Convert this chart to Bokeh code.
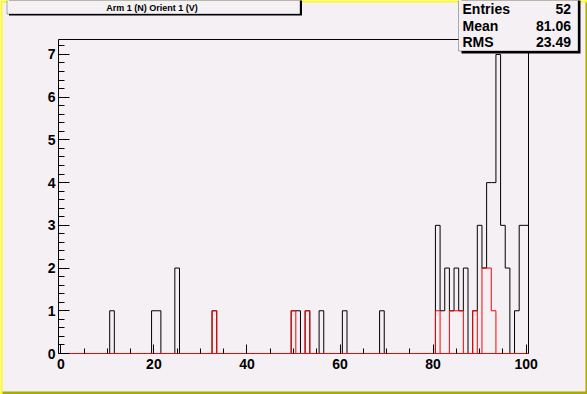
import numpy as np
from bokeh.plotting import figure
from bokeh.models import Range1d, LinearAxis, FixedTicker, BoxAnnotation, Label
from bokeh.embed import file_html
from bokeh.resources import INLINE

# ---------------- data ----------------
hist_lo, hist_hi, n_bins = -0.5, 100.5, 101

all_centers = [11, 20, 21, 25, 33, 50, 51, 53, 56, 61, 69,
               81, 82, 83, 84, 85, 86, 87, 89, 90, 91, 92, 93, 94, 95, 96, 98, 99, 100]
all_counts = [1, 1, 1, 2, 1, 1, 1, 1, 1, 1, 1,
              3, 1, 2, 1, 2, 1, 2, 1, 3, 2, 4, 4, 7, 3, 2, 1, 3, 3]

sel_centers = [33, 50, 53, 81, 84, 85, 86, 89, 91, 92, 93]
sel_counts = [1, 1, 1, 1, 1, 1, 1, 1, 2, 2, 1]

x_ticks = [0, 20, 40, 60, 80, 100]
y_ticks = [0, 1, 2, 3, 4, 5, 6, 7]
y_max = 7.35

title_text = "Arm 1 (N) Orient 1 (V)"
stats_names = ["Entries", "Mean", "RMS"]
stats_values = ["52", "81.06", "23.49"]

# ---------------- helpers ----------------
edges = np.linspace(hist_lo, hist_hi, n_bins + 1)


def full_counts(centers, counts):
    arr = np.zeros(n_bins)
    for c, v in zip(centers, counts):
        arr[int(round(c - hist_lo - 0.5))] = v
    return arr


def outline(counts):
    xs, ys = [edges[0]], [0.0]
    for i, v in enumerate(counts):
        xs += [edges[i], edges[i + 1]]
        ys += [v, v]
    xs.append(edges[-1])
    ys.append(0.0)
    return xs, ys


W, H = 587, 394
# pixel box of the histogram frame on the canvas
FL, FR, FT, FB = 58, 528, 39, 353
BG = "#f4f0f4"
FONT = "Liberation Sans"

kx = (FR - FL) / (hist_hi - hist_lo)
ky = (FB - FT) / y_max
x_start = hist_lo - FL / kx
x_end = hist_hi + (W - FR) / kx
y_end = y_max + FT / ky
y_start = -(H - FB) / ky

# ---------------- figure ----------------
p = figure(width=W, height=H, output_backend="svg", toolbar_location=None,
           x_range=Range1d(x_start, x_end), y_range=Range1d(y_start, y_end),
           min_border=0, min_border_left=0, min_border_right=0,
           min_border_top=0, min_border_bottom=0)
p.background_fill_color = BG
p.border_fill_color = BG
p.outline_line_color = None
p.xgrid.visible = False
p.ygrid.visible = False

xa = p.xaxis[0]
xa.fixed_location = 0
xa.bounds = (hist_lo, hist_hi)
xa.ticker = FixedTicker(ticks=x_ticks, minor_ticks=list(range(0, 101, 5)))
xa.major_tick_in, xa.major_tick_out = 9, 0
xa.minor_tick_in, xa.minor_tick_out = 5, 0
xa.axis_line_color = "#ff0000"
xa.major_tick_line_color = "black"
xa.minor_tick_line_color = "black"
xa.major_label_standoff = 5
xa.major_label_text_font = FONT
xa.major_label_text_font_style = "bold"
xa.major_label_text_font_size = "14px"
xa.major_label_text_color = "black"

ya = p.yaxis[0]
ya.fixed_location = hist_lo
ya.bounds = (0, y_max)
ya.ticker = FixedTicker(ticks=y_ticks, minor_ticks=[round(0.2 * i, 1) for i in range(37)])
ya.major_tick_in, ya.major_tick_out = 11, 0
ya.minor_tick_in, ya.minor_tick_out = 6, 0
ya.axis_line_color = "black"
ya.major_label_standoff = 3
ya.major_label_text_font = FONT
ya.major_label_text_font_style = "bold"
ya.major_label_text_font_size = "14px"
ya.major_label_text_color = "black"

# top and right sides of the frame
top_ax = LinearAxis(ticker=FixedTicker(ticks=[]), fixed_location=y_max, bounds=(hist_lo, hist_hi),
                    major_tick_in=0, major_tick_out=0, minor_tick_in=0, minor_tick_out=0,
                    major_label_text_font_size="0px", axis_line_color="black")
p.add_layout(top_ax, "above")
right_ax = LinearAxis(ticker=FixedTicker(ticks=[]), fixed_location=hist_hi, bounds=(0, y_max),
                      major_tick_in=0, major_tick_out=0, minor_tick_in=0, minor_tick_out=0,
                      major_label_text_font_size="0px", axis_line_color="black")
p.add_layout(right_ax, "right")

# histograms
bx, by = outline(full_counts(all_centers, all_counts))
p.line(bx, by, line_color="black", line_width=1)
rx, ry = outline(full_counts(sel_centers, sel_counts))
p.line(rx, ry, line_color="#ff0000", line_width=1)


def cbox(l, r, t, b, **kw):
    p.add_layout(BoxAnnotation(left=l, right=r, top=t, bottom=b,
                               left_units="canvas", right_units="canvas",
                               top_units="canvas", bottom_units="canvas",
                               fill_alpha=1, level="overlay", **kw))


def clabel(x, y, text, align, size):
    p.add_layout(Label(x=x, y=y, x_units="canvas", y_units="canvas", text=text,
                       text_align=align, text_baseline="alphabetic", text_font=FONT,
                       text_font_style="bold", text_font_size=size, text_color="black",
                       level="overlay"))


# canvas bevel
cbox(0, 587, 0, 2, fill_color="#ffff00", line_color=None)
cbox(0, 2, 0, 394, fill_color="#ffff00", line_color=None)
cbox(585, 587, 2, 394, fill_color="#aaaa00", line_color=None)
cbox(2, 587, 391, 394, fill_color="#aaaa00", line_color=None)

# title box
cbox(8.5, 301.5, -10, 15, fill_color="black", line_color=None)
cbox(6.5, 299.5, -10, 13.5, fill_color=BG, line_color="black", line_width=1)
clabel(151.5, 7.4, title_text, "center", "9px")

# stats box
cbox(461, 580, -10, 53, fill_color="black", line_color=None)
cbox(458, 577.5, -10, 50.5, fill_color=BG, line_color="black", line_width=1)
for i, (nm, val) in enumerate(zip(stats_names, stats_values)):
    base = 8.6 + i * 16.45
    clabel(462, base, nm, "left", "14px")
    clabel(570.5, base, val, "right", "14px")

open("out.html", "w").write(file_html(p, INLINE))
